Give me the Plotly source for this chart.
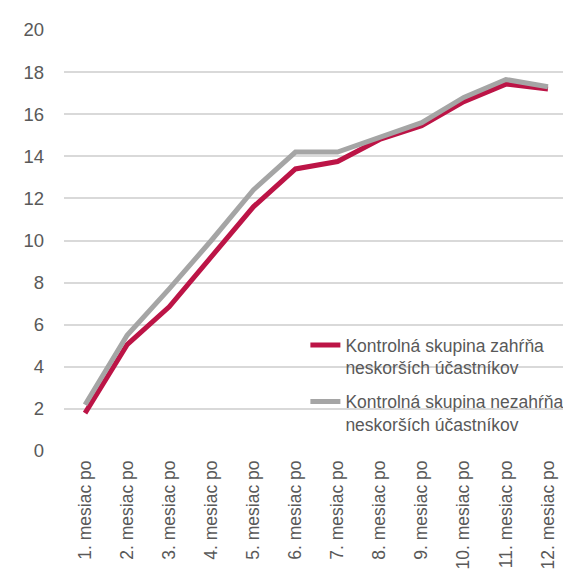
import plotly.graph_objects as go

# Data
months = [f"{i}. mesiac po" for i in range(1, 13)]
zahrna = [1.8, 5.05, 6.85, 9.25, 11.6, 13.4, 13.75, 14.8, 15.45, 16.6, 17.43, 17.2]
nezahrna = [2.2, 5.5, 7.7, 10.0, 12.4, 14.2, 14.2, 14.9, 15.6, 16.8, 17.65, 17.3]

names = ["Kontrolná skupina zahŕňa<br>neskorších účastníkov",
         "Kontrolná skupina nezahŕňa<br>neskorších účastníkov"]
colors = ["#BC1446", "#A5A5A5"]

fig = go.Figure()
for i, (vals, name, col) in enumerate(zip([zahrna, nezahrna], names, colors)):
    fig.add_trace(go.Scatter(
        x=months, y=vals, mode="lines", name=name,
        line=dict(color=col, width=5), legendgroup=str(i),
    ))

font = "Liberation Sans, Arial, sans-serif"
# page body has an 8px margin, so the figure is sized/offset to compensate
fig.update_layout(
    width=563, height=566,
    margin=dict(l=56, r=2, t=22, b=123, autoexpand=False),
    paper_bgcolor="white", plot_bgcolor="white",
    font=dict(family=font, size=17, color="#595959"),
    showlegend=True,
    legend=dict(x=0.478, y=0.2945, xanchor="left", yanchor="top",
                bgcolor="rgba(0,0,0,0)", valign="top",
                tracegroupgap=8, font=dict(size=17.5)),
    xaxis=dict(tickangle=-90, showgrid=False, zeroline=False,
               range=[-0.5, 11.5], automargin=False,
               showline=False, ticks="", tickfont=dict(size=17.5),
               ticklabelstandoff=5),
    yaxis=dict(range=[0, 20], dtick=2, showgrid=True, gridcolor="#D9D9D9",
               gridwidth=1.5, zeroline=False, ticks="", automargin=False,
               tickfont=dict(size=18.5), ticklabelstandoff=19),
)

fig.write_html("out.html")
